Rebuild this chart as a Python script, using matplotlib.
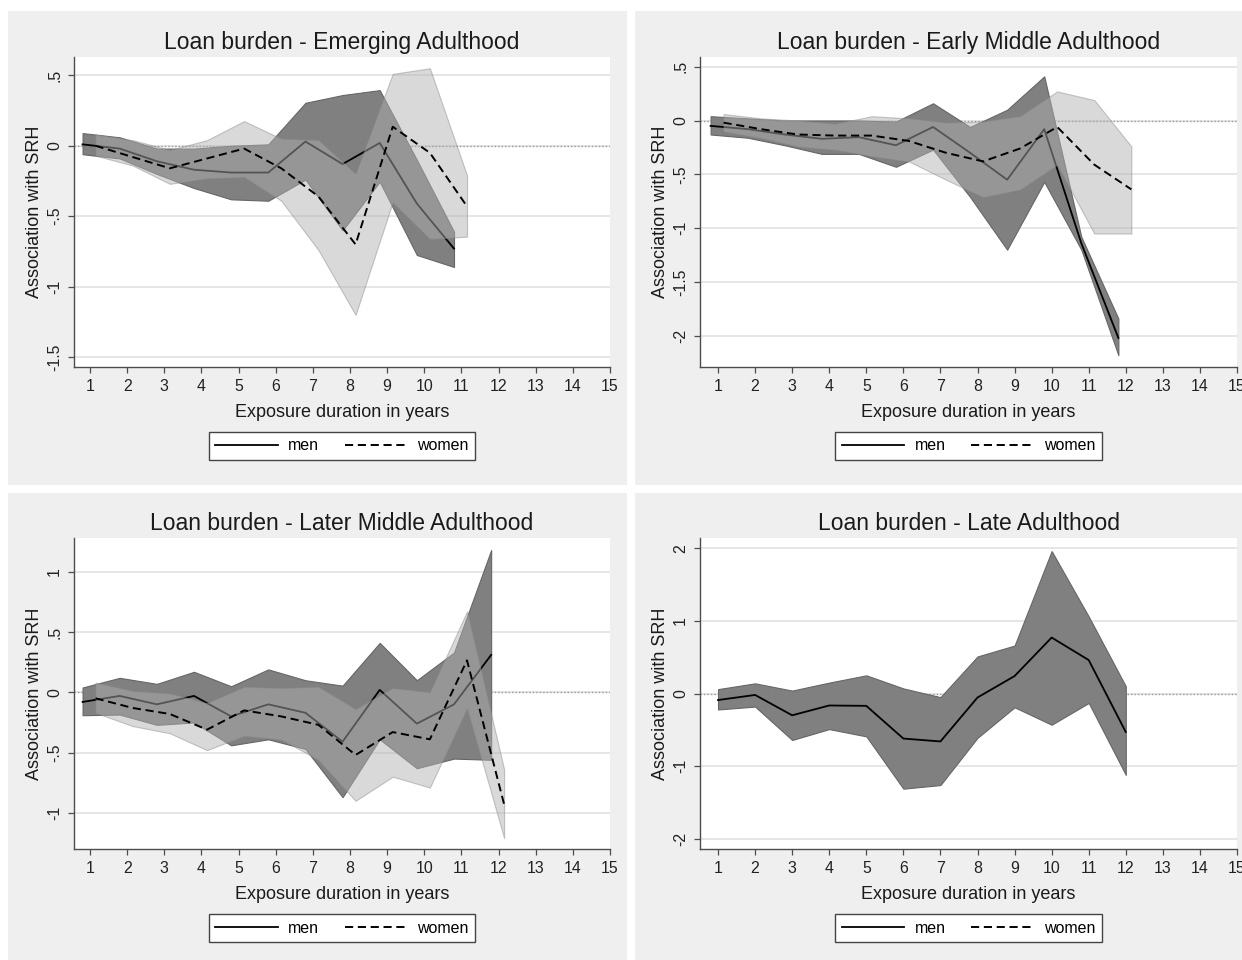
import numpy as np
import matplotlib.pyplot as plt
from matplotlib.patches import Rectangle
from matplotlib.lines import Line2D

plt.rcParams['font.family'] = ['Liberation Sans', 'DejaVu Sans']

years = np.arange(1, 16)

# Emerging Adulthood (years 1-11)
ea_men = [0.01, -0.02, -0.11, -0.17, -0.19, -0.19, 0.03, -0.13, 0.02, -0.41, -0.73]
ea_men_hi = [0.09, 0.06, -0.02, -0.02, 0.0, 0.01, 0.305, 0.36, 0.395, -0.10, -0.61]
ea_men_lo = [-0.06, -0.09, -0.20, -0.30, -0.38, -0.39, -0.24, -0.60, -0.255, -0.775, -0.86]
ea_women = [0.0, -0.08, -0.16, -0.09, -0.02, -0.16, -0.36, -0.70, 0.135, -0.05, -0.43]
ea_women_hi = [0.08, 0.04, -0.03, 0.04, 0.175, 0.05, 0.04, -0.20, 0.51, 0.55, -0.21]
ea_women_lo = [-0.07, -0.14, -0.27, -0.23, -0.22, -0.39, -0.74, -1.20, -0.40, -0.66, -0.645]

# Early Middle Adulthood (years 1-12)
em_men = [-0.05, -0.08, -0.13, -0.17, -0.155, -0.23, -0.06, -0.30, -0.55, -0.08, -1.14, -2.02]
em_men_hi = [0.04, 0.02, 0.0, 0.0, 0.0, -0.01, 0.16, -0.06, 0.10, 0.41, -1.08, -1.84]
em_men_lo = [-0.13, -0.16, -0.23, -0.31, -0.31, -0.43, -0.27, -0.71, -1.20, -0.57, -1.20, -2.18]
em_women = [-0.02, -0.08, -0.13, -0.14, -0.14, -0.19, -0.30, -0.38, -0.26, -0.06, -0.41, -0.64]
em_women_hi = [0.06, 0.02, 0.0, -0.03, 0.04, 0.02, -0.02, -0.01, 0.04, 0.27, 0.19, -0.24]
em_women_lo = [-0.10, -0.16, -0.24, -0.27, -0.33, -0.38, -0.55, -0.71, -0.64, -0.41, -1.05, -1.05]

# Later Middle Adulthood (years 1-12)
lm_men = [-0.08, -0.03, -0.10, -0.03, -0.20, -0.10, -0.17, -0.41, 0.02, -0.26, -0.10, 0.31]
lm_men_hi = [0.04, 0.12, 0.07, 0.17, 0.05, 0.19, 0.10, 0.055, 0.41, 0.10, 0.33, 1.18]
lm_men_lo = [-0.19, -0.185, -0.27, -0.25, -0.44, -0.39, -0.47, -0.87, -0.39, -0.63, -0.55, -0.56]
lm_women = [-0.05, -0.13, -0.18, -0.31, -0.15, -0.20, -0.27, -0.52, -0.33, -0.39, 0.265, -0.93]
lm_women_hi = [0.08, 0.01, -0.01, -0.09, 0.045, 0.035, 0.045, -0.14, 0.035, 0.0, 0.67, -0.64]
lm_women_lo = [-0.17, -0.28, -0.34, -0.48, -0.36, -0.39, -0.56, -0.90, -0.70, -0.79, -0.13, -1.21]

# Late Adulthood (men only, years 1-12)
la_men = [-0.09, -0.02, -0.30, -0.165, -0.17, -0.62, -0.66, -0.055, 0.24, 0.77, 0.46, -0.53]
la_men_hi = [0.06, 0.14, 0.04, 0.15, 0.25, 0.07, -0.05, 0.51, 0.66, 1.96, 1.06, 0.10]
la_men_lo = [-0.22, -0.18, -0.64, -0.49, -0.59, -1.31, -1.26, -0.61, -0.19, -0.43, -0.13, -1.12]

W, H = 1242, 960
fig = plt.figure(figsize=(W / 100, H / 100), dpi=100, facecolor='white')

# gray panel backgrounds (pixel boxes: x0, y0, x1, y1)
for x0, y0, x1, y1 in [(8, 11, 627, 485), (635, 11, 1242, 485),
                       (8, 493, 627, 960), (635, 493, 1242, 960)]:
    fig.patches.append(Rectangle((x0 / W, 1 - y1 / H), (x1 - x0) / W, (y1 - y0) / H,
                                 transform=fig.transFigure, facecolor='#efefef',
                                 edgecolor='none', zorder=-10))


def fmt(v):
    s = f'{v:g}'
    return s.replace('0.', '.')


def panel(box, title, yticks, ylim, xmin, men, men_lo, men_hi,
          women=None, women_lo=None, women_hi=None, men_off=-0.2, women_off=0.15):
    x0, y0, x1, y1 = box
    ax = fig.add_axes([x0 / W, 1 - y1 / H, (x1 - x0) / W, (y1 - y0) / H])
    ax.set_zorder(1)
    ax.set_facecolor('white')

    xm = np.arange(1, len(men) + 1) + men_off
    ax.fill_between(xm, men_lo, men_hi, facecolor='#808080', edgecolor='#666666',
                    lw=0.8, zorder=2)
    ax.plot(xm, men, color='black', lw=1.3, zorder=3)
    if women is not None:
        xw = np.arange(1, len(women) + 1) + women_off
        ax.fill_between(xw, women_lo, women_hi, facecolor='#b0b0b0', edgecolor='#8c8c8c',
                        lw=0.8, alpha=0.48, zorder=4)
        ax.plot(xw, women, color='black', lw=1.4, ls=(0, (4.2, 2.4)), zorder=5)

    ax.axhline(0, color='#9a9a9a', lw=1.0, ls=(0, (1, 1.5)), zorder=1)
    ax.yaxis.grid(True, color='#e4e4e4', lw=1.3)
    ax.set_axisbelow(True)

    ax.set_xlim(xmin, 15)
    ax.set_ylim(*ylim)
    ax.set_xticks(years)
    ax.set_yticks(yticks)
    ax.set_yticklabels([fmt(v) for v in yticks], rotation=90, va='center')

    for s in ['top', 'right']:
        ax.spines[s].set_visible(False)
    for s in ['left', 'bottom']:
        ax.spines[s].set_color('#4d4d4d')
        ax.spines[s].set_linewidth(1.0)
    ax.tick_params(direction='out', length=4.5, width=0.9, color='#4d4d4d',
                   labelsize=11.4, labelcolor='#222222', pad=4)

    ax.set_title(title, fontsize=16.5, color='#1a1a1a', pad=6)
    ax.set_xlabel('Exposure duration in years', fontsize=13, color='#1a1a1a', labelpad=7)
    ax.set_ylabel('Association with SRH', fontsize=13, color='#1a1a1a', labelpad=3)

    handles = [Line2D([], [], color='black', lw=1.3),
               Line2D([], [], color='black', lw=1.4, ls=(0, (4.2, 2.4)))]
    leg = ax.legend(handles, ['men', 'women'], loc='upper center', bbox_to_anchor=(0.5, -0.21),
                    ncol=2, fontsize=11.5, handlelength=3.9, handletextpad=0.65,
                    columnspacing=1.6, frameon=True, fancybox=False, framealpha=1,
                    edgecolor='#444444', borderpad=0.4, borderaxespad=0)
    leg.get_frame().set_linewidth(1.0)
    return ax


panel((74, 57, 610, 367), 'Loan burden - Emerging Adulthood',
      [-1.5, -1, -0.5, 0, 0.5], (-1.57, 0.63), 0.569,
      ea_men, ea_men_lo, ea_men_hi, ea_women, ea_women_lo, ea_women_hi)

panel((700, 57, 1237, 367), 'Loan burden - Early Middle Adulthood',
      [-2, -1.5, -1, -0.5, 0, 0.5], (-2.29, 0.59), 0.514,
      em_men, em_men_lo, em_men_hi, em_women, em_women_lo, em_women_hi)

panel((74, 538, 610, 849), 'Loan burden - Later Middle Adulthood',
      [-1, -0.5, 0, 0.5, 1], (-1.30, 1.28), 0.569,
      lm_men, lm_men_lo, lm_men_hi, lm_women, lm_women_lo, lm_women_hi)

panel((700, 538, 1237, 849), 'Loan burden - Late Adulthood',
      [-2, -1, 0, 1, 2], (-2.14, 2.14), 0.514,
      la_men, la_men_lo, la_men_hi, men_off=0.0)

fig.savefig('out.png', dpi=100)
